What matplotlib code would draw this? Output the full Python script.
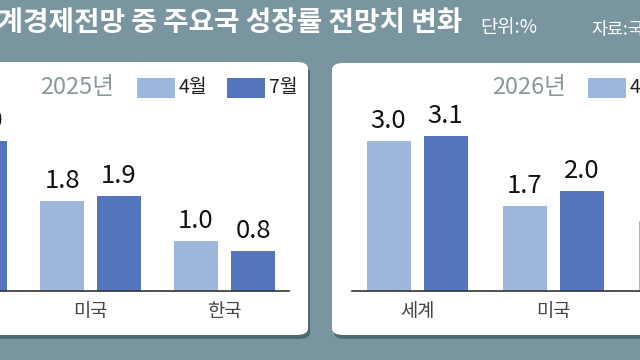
import matplotlib
matplotlib.use("Agg")
import matplotlib.pyplot as plt
from matplotlib.patches import FancyBboxPatch
import numpy as np

# ---- data ----
categories = ["세계", "미국", "한국"]
months = ["4월", "7월"]
y2025_apr = [2.8, 1.8, 1.0]
y2025_jul = [3.0, 1.9, 0.8]
y2026_apr = [3.0, 1.7, 1.4]
y2026_jul = [3.1, 2.0, 1.8]
panel_titles = ["2025년", "2026년"]
title = "세계경제전망 중 주요국 성장률 전망치 변화"
unit = "단위:%"
source = "자료:국제통화기금(IMF)"

W, H = 640, 360
BG = "#7996a0"
LIGHT = "#9fb6dd"
DARK = "#5475bb"
CJK = "Noto Sans CJK KR"
FAM = [CJK, "DejaVu Sans"]

fig = plt.figure(figsize=(W / 100, H / 100), dpi=100)
fig.patch.set_facecolor(BG)


def fx(px):
    return px / W


def fy(py_top):
    return 1 - py_top / H


# title
fig.text(fx(-28), fy(23), title, family=FAM, weight="bold",
         fontsize=20, color="white", ha="left", va="center")
fig.text(fx(480), fy(28), unit, family=FAM, fontsize=13.5,
         color="white", ha="left", va="center")
fig.text(fx(591), fy(29), source, family=FAM, fontsize=12.5,
         color="white", ha="left", va="center")

# panels (shadow + white rounded box)
panels = [(-30, 62, 308, 335), (332, 63, 680, 335)]
for (x0, y0, x1, y1) in panels:
    sh = FancyBboxPatch((fx(x0 + 2), fy(y1 + 4)), fx(x1 - x0), (y1 - y0) / H,
                        boxstyle="round,pad=0,rounding_size=0.018",
                        transform=fig.transFigure, facecolor="#4d6a74",
                        edgecolor="none", zorder=0)
    fig.patches.append(sh)
    bx = FancyBboxPatch((fx(x0), fy(y1)), fx(x1 - x0), (y1 - y0) / H,
                        boxstyle="round,pad=0,rounding_size=0.018",
                        transform=fig.transFigure, facecolor="white",
                        edgecolor="none", zorder=1)
    fig.patches.append(bx)

# axes geometry: baseline y=291px, 50 px per unit
base_py = 291
px_per_unit = 50
ymax = 4.0
ax_h_px = ymax * px_per_unit

configs = [
    (y2025_apr, y2025_jul, -43.5, 134, -120, 289, panel_titles[0], (40, 137, 227)),
    (y2026_apr, y2026_jul, 417, 136, 352, 720, panel_titles[1], (492, 588, 678)),
]

bar_w_px = 44
gap_px = 13

for apr, jul, c0, sp, axl, axr, ptitle, leg in configs:
    ax = fig.add_axes([fx(axl), fy(base_py), fx(axr - axl), ax_h_px / H])
    ax.set_facecolor("none")
    ax.set_zorder(2)
    xlo = (axl - c0) / sp
    xhi = (axr - c0) / sp
    ax.set_xlim(xlo, xhi)
    ax.set_ylim(0, ymax)
    x = np.arange(len(categories))
    bw = bar_w_px / sp
    off = (bar_w_px + gap_px) / 2 / sp
    ax.bar(x - off, apr, width=bw, color=LIGHT, zorder=2)
    ax.bar(x + off, jul, width=bw, color=DARK, zorder=2)
    for xi, a, j in zip(x, apr, jul):
        ax.text(xi - off, a + 0.14, f"{a:.1f}", ha="center", va="bottom",
                family=FAM, fontsize=18.5, color="#111111")
        ax.text(xi + off, j + 0.14, f"{j:.1f}", ha="center", va="bottom",
                family=FAM, fontsize=18.5, color="#111111")
    for s in ["top", "right", "left"]:
        ax.spines[s].set_visible(False)
    ax.spines["bottom"].set_color("#333333")
    ax.spines["bottom"].set_linewidth(1.2)
    ax.set_yticks([])
    ax.set_xticks(x)
    ax.set_xticklabels(categories, family=FAM, fontsize=13.5,
                       color="#444444")
    ax.tick_params(axis="x", length=0, pad=7)

    # legend-like header
    tx, p1, p2 = leg
    fig.text(fx(tx), fy(88), ptitle, family=FAM, fontsize=17,
             color="#8a979c", ha="left", va="center", zorder=5)
    for px0, col, lab in [(p1, LIGHT, months[0]), (p2, DARK, months[1])]:
        r = plt.Rectangle((fx(px0), fy(98)), fx(38), 20 / H,
                          transform=fig.transFigure, facecolor=col,
                          edgecolor="none", zorder=5)
        fig.patches.append(r)
        fig.text(fx(px0 + 42), fy(88), lab, family=FAM, fontsize=14,
                 color="#222222", ha="left", va="center", zorder=5)

fig.savefig("out.png", dpi=100, facecolor=BG)
